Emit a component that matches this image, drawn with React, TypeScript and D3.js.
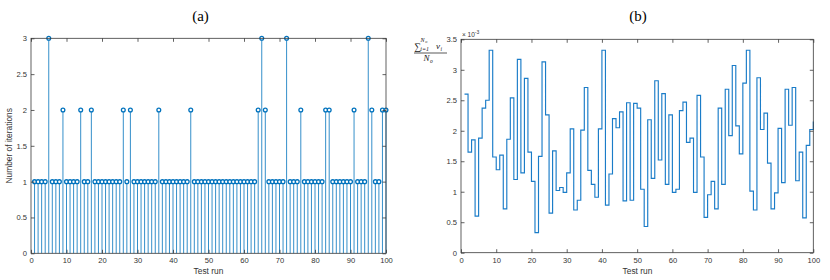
import { useEffect, useRef } from "react";
import * as d3 from "d3";

// (a) number of iterations per test run (runs 1..100)
const iterations = [
  1, 1, 1, 1, 3, 1, 1, 1, 2, 1,
  1, 1, 1, 2, 1, 1, 2, 1, 1, 1,
  1, 1, 1, 1, 1, 2, 1, 2, 1, 1,
  1, 1, 1, 1, 1, 2, 1, 1, 1, 1,
  1, 1, 1, 1, 2, 1, 1, 1, 1, 1,
  1, 1, 1, 1, 1, 1, 1, 1, 1, 1,
  1, 1, 1, 2, 3, 2, 1, 1, 1, 1,
  1, 3, 1, 1, 1, 2, 1, 1, 1, 1,
  1, 1, 2, 2, 1, 1, 1, 1, 1, 1,
  2, 1, 1, 1, 3, 2, 1, 1, 2, 2,
];

// (b) mean value per test run, in units of 1e-3
const meanValues = [
  2.6, 1.65, 1.85, 0.6, 1.88, 2.37, 2.5, 3.32, 1.57, 1.36,
  1.6, 0.72, 1.86, 2.54, 1.2, 3.17, 1.31, 2.86, 1.65, 1.17,
  0.33, 1.58, 3.13, 2.26, 0.65, 1.67, 1.02, 1.07, 0.99, 1.31,
  2.03, 0.7, 0.86, 2.01, 2.71, 1.35, 1.12, 0.91, 2.03, 3.32,
  0.78, 1.29, 2.2, 2.05, 2.31, 0.85, 2.46, 0.86, 2.45, 2.37,
  1.04, 0.43, 2.18, 1.22, 2.82, 1.52, 2.61, 1.12, 2.26, 0.99,
  1.04, 2.33, 2.47, 1.81, 1.88, 0.99, 2.58, 1.57, 0.58, 0.95,
  1.17, 0.72, 2.37, 1.12, 2.68, 1.92, 3.07, 2.08, 1.62, 2.78,
  3.32, 1.01, 0.7, 2.87, 2.02, 2.29, 1.47, 0.72, 0.98, 2.04,
  1.15, 2.68, 2.09, 2.71, 1.18, 1.65, 0.57, 1.76, 2.02, 2.15,
];

const xTicks = [0, 10, 20, 30, 40, 50, 60, 70, 80, 90, 100];
const yTicksA = [0, 0.5, 1, 1.5, 2, 2.5, 3];
const yTicksB = [0, 0.5, 1, 1.5, 2, 2.5, 3, 3.5];

const BLUE = "#0072BD";
const AXIS = "#3a3a3a";
const SANS = "'Liberation Sans', Arial, Helvetica, sans-serif";
const SERIF = "'Liberation Serif', 'Times New Roman', serif";

function drawFrame(g, x, y, yTicks) {
  const [x0, x1] = x.range();
  const [yb, yt] = y.range();
  const fmt = (d) => String(d);

  g.append("g")
    .attr("transform", `translate(0,${yb})`)
    .call(d3.axisBottom(x).tickValues(xTicks).tickSizeInner(-3.5).tickSizeOuter(0).tickPadding(4.5).tickFormat(fmt));
  g.append("g")
    .attr("transform", `translate(0,${yt})`)
    .call(d3.axisTop(x).tickValues(xTicks).tickSizeInner(-3.5).tickSizeOuter(0).tickFormat(() => ""));
  g.append("g")
    .attr("transform", `translate(${x0},0)`)
    .call(d3.axisLeft(y).tickValues(yTicks).tickSizeInner(-3.5).tickSizeOuter(0).tickPadding(4).tickFormat(fmt));
  g.append("g")
    .attr("transform", `translate(${x1},0)`)
    .call(d3.axisRight(y).tickValues(yTicks).tickSizeInner(-3.5).tickSizeOuter(0).tickFormat(() => ""));

  g.selectAll(".domain").remove();
  g.selectAll(".tick line").attr("stroke", AXIS).attr("stroke-width", 0.8);
  g.selectAll(".tick text")
    .attr("fill", "#333")
    .style("font-family", SANS)
    .style("font-size", "7.6px");

  g.append("rect")
    .attr("x", x0)
    .attr("y", yt)
    .attr("width", x1 - x0)
    .attr("height", yb - yt)
    .attr("fill", "none")
    .attr("stroke", AXIS)
    .attr("stroke-width", 0.8);
}

function mathText(g, x, y, size, str, italic) {
  return g
    .append("text")
    .attr("x", x)
    .attr("y", y)
    .attr("fill", "#111")
    .style("font-family", SERIF)
    .style("font-size", size + "px")
    .style("font-style", italic ? "italic" : "normal")
    .text(str);
}

export default function App() {
  const ref = useRef(null);

  useEffect(() => {
    const svg = d3.select(ref.current);
    svg.selectAll("*").remove();

    // ---------- (a) stem plot ----------
    const xa = d3.scaleLinear().domain([0, 100]).range([31, 386]);
    const ya = d3.scaleLinear().domain([0, 3]).range([253.3, 38.3]);
    const ga = svg.append("g");

    const stems = ga.append("g");
    iterations.forEach((v, i) => {
      const run = i + 1;
      stems
        .append("line")
        .attr("x1", xa(run))
        .attr("x2", xa(run))
        .attr("y1", ya(0))
        .attr("y2", ya(v))
        .attr("stroke", BLUE)
        .attr("stroke-width", 0.8);
    });
    iterations.forEach((v, i) => {
      stems
        .append("circle")
        .attr("cx", xa(i + 1))
        .attr("cy", ya(v))
        .attr("r", 1.9)
        .attr("fill", "white")
        .attr("stroke", BLUE)
        .attr("stroke-width", 1.3);
    });

    drawFrame(ga, xa, ya, yTicksA);

    ga.append("text")
      .attr("x", 200.5)
      .attr("y", 21)
      .attr("text-anchor", "middle")
      .style("font-family", SERIF)
      .style("font-size", "15px")
      .text("(a)");
    ga.append("text")
      .attr("x", 208.5)
      .attr("y", 273.5)
      .attr("text-anchor", "middle")
      .attr("fill", "#333")
      .style("font-family", SANS)
      .style("font-size", "8.4px")
      .text("Test run");
    ga.append("text")
      .attr("transform", "translate(12.3,145.8) rotate(-90)")
      .attr("text-anchor", "middle")
      .attr("fill", "#333")
      .style("font-family", SANS)
      .style("font-size", "8.4px")
      .text("Number of iterations");

    // ---------- (b) stairs plot ----------
    const xb = d3.scaleLinear().domain([0, 100]).range([461, 813.3]);
    const yb = d3.scaleLinear().domain([0, 3.5]).range([252.7, 39.3]);
    const gb = svg.append("g");

    const stair = d3
      .line()
      .x((d, i) => xb(i + 1))
      .y((d) => yb(d))
      .curve(d3.curveStepAfter);

    gb.append("path")
      .attr("d", stair(meanValues))
      .attr("fill", "none")
      .attr("stroke", "#1a7cc8")
      .attr("stroke-width", 1.15);

    drawFrame(gb, xb, yb, yTicksB);

    gb.append("text")
      .attr("x", 638)
      .attr("y", 21)
      .attr("text-anchor", "middle")
      .style("font-family", SERIF)
      .style("font-size", "15px")
      .text("(b)");
    gb.append("text")
      .attr("x", 637.5)
      .attr("y", 273.5)
      .attr("text-anchor", "middle")
      .attr("fill", "#333")
      .style("font-family", SANS)
      .style("font-size", "8.4px")
      .text("Test run");

    // exponent label
    const ex = gb
      .append("text")
      .attr("x", 462)
      .attr("y", 36.5)
      .attr("fill", "#333")
      .style("font-family", SANS)
      .style("font-size", "6.5px");
    ex.append("tspan").text("\u00d7 10");
    ex.append("tspan").attr("dy", -3).style("font-size", "5px").text("-3");

    // y label: sum_{i=1}^{N_o} v_i / N_o
    mathText(gb, 414.3, 49.8, 9.5, "\u2211", false);
    mathText(gb, 420.5, 41.6, 6, "N", true);
    mathText(gb, 425.3, 43, 4.2, "o", true);
    mathText(gb, 420.3, 51.3, 6, "i=1", true);
    mathText(gb, 436, 49.2, 9, "v", true);
    mathText(gb, 440.4, 50.8, 5.5, "i", true);

    gb.append("line")
      .attr("x1", 414)
      .attr("x2", 447)
      .attr("y1", 53)
      .attr("y2", 53)
      .attr("stroke", "#111")
      .attr("stroke-width", 0.7);

    mathText(gb, 423.5, 61, 9, "N", true);
    mathText(gb, 430, 62.6, 5.5, "o", true);
  }, []);

  return (
    <div style={{ position: "absolute", left: 0, top: 0 }}>
      <svg ref={ref} width={830} height={280} style={{ display: "block", background: "white" }} />
    </div>
  );
}
